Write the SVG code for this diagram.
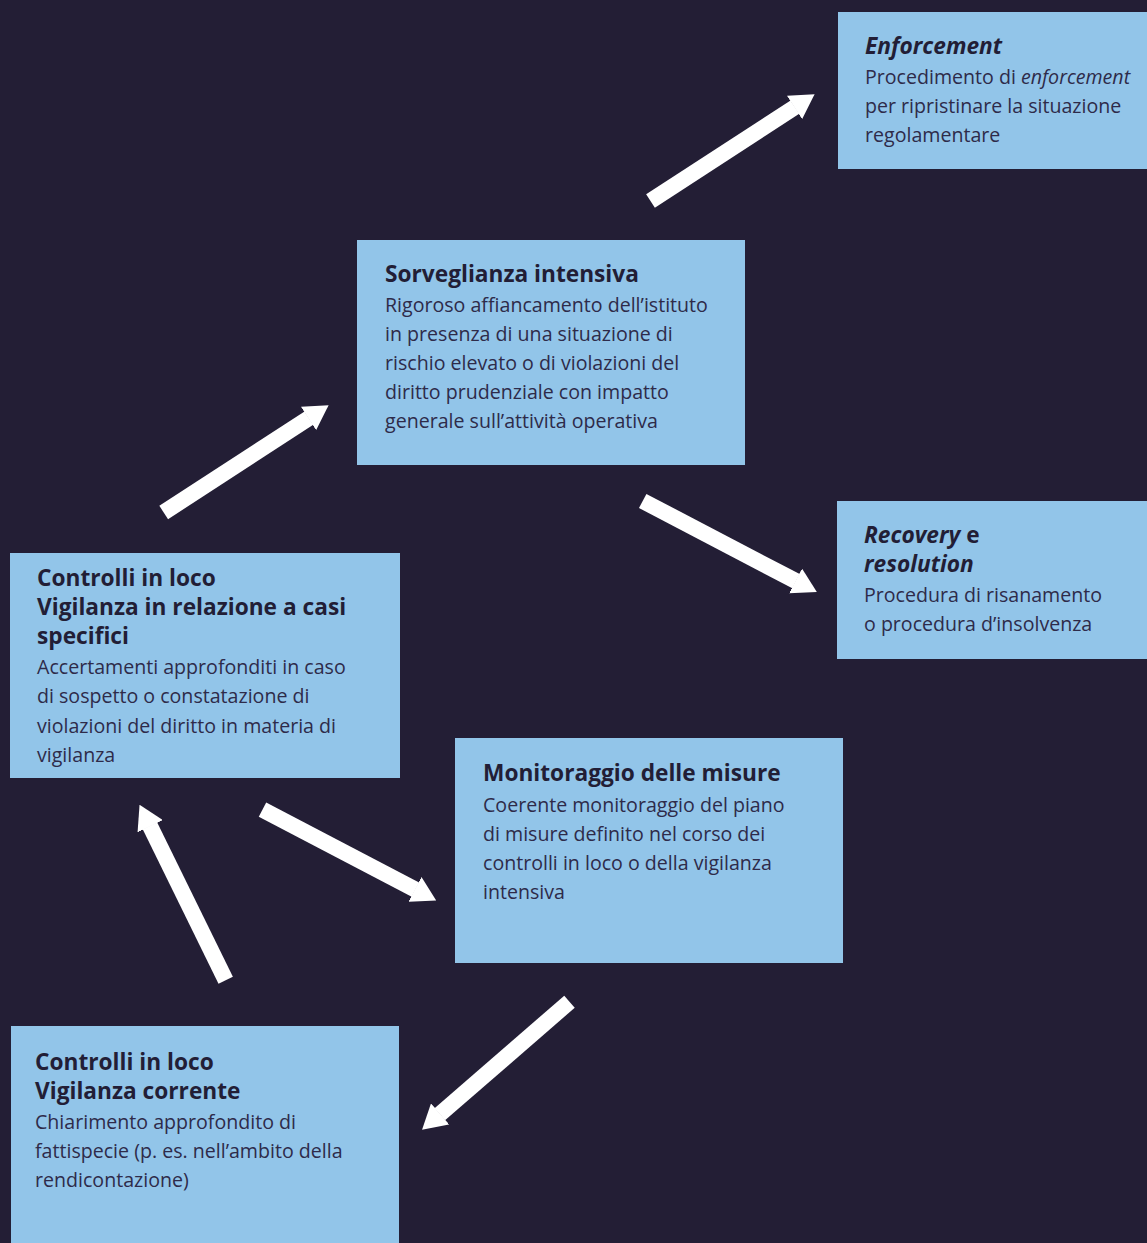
<svg xmlns="http://www.w3.org/2000/svg" width="1147" height="1243" viewBox="0 0 1147 1243">
<style>
.box{fill:#92c5e9}
.t{font-family:"Open Sans","Noto Sans",sans-serif;font-size:22.7px;font-weight:bold;fill:#221e36;font-variant-ligatures:none}
.b{font-family:"Open Sans","Noto Sans",sans-serif;font-size:19.6px;fill:#2e2b4a;font-variant-ligatures:none}
.i{font-style:italic}
.arr{stroke:#ffffff;stroke-width:16;fill:none}
</style>
<defs>
<marker id="ah" markerUnits="userSpaceOnUse" viewBox="0 0 24 28" markerWidth="24" markerHeight="28" refX="0.5" refY="14" orient="auto">
<path d="M0,0 L24,14 L0,28 z" fill="#ffffff"/>
</marker>
</defs>
<rect x="0" y="0" width="1147" height="1243" fill="#231e35"/>
<g id="connectors">
<line class="arr" x1="650.5" y1="201" x2="794.9" y2="107.1" marker-end="url(#ah)"/>
<line class="arr" x1="163.7" y1="512.5" x2="308.9" y2="418.1" marker-end="url(#ah)"/>
<line class="arr" x1="642.7" y1="501" x2="796" y2="581.2" marker-end="url(#ah)"/>
<line class="arr" x1="262.5" y1="809.7" x2="415.4" y2="889.6" marker-end="url(#ah)"/>
<line class="arr" x1="225.7" y1="980.3" x2="149.9" y2="825.8" marker-end="url(#ah)"/>
<line class="arr" x1="569.5" y1="1001.7" x2="439.8" y2="1114.3" marker-end="url(#ah)"/>
</g>
<g id="enforcement">
<rect class="box" x="838" y="12" width="309" height="157"/>
<text class="t i" x="865" y="54">Enforcement</text>
<text class="b" x="865" y="84">Procedimento di <tspan class="i">enforcement</tspan></text>
<text class="b" x="865" y="113">per ripristinare la situazione</text>
<text class="b" x="865" y="142">regolamentare</text>
</g>
<g id="sorveglianza">
<rect class="box" x="357" y="240" width="388" height="225"/>
<text class="t" x="385" y="282">Sorveglianza intensiva</text>
<text class="b" x="385" y="312">Rigoroso affiancamento dell’istituto</text>
<text class="b" x="385" y="341">in presenza di una situazione di</text>
<text class="b" x="385" y="370">rischio elevato o di violazioni del</text>
<text class="b" x="385" y="399">diritto prudenziale con impatto</text>
<text class="b" x="385" y="428">generale sull’attività operativa</text>
</g>
<g id="recovery">
<rect class="box" x="837" y="501" width="310" height="158"/>
<text class="t" x="864" y="543"><tspan class="i">Recovery</tspan> e</text>
<text class="t i" x="864" y="572">resolution</text>
<text class="b" x="864" y="602">Procedura di risanamento</text>
<text class="b" x="864" y="631">o procedura d’insolvenza</text>
</g>
<g id="controlli-casi">
<rect class="box" x="10" y="553" width="390" height="225"/>
<text class="t" x="37" y="586">Controlli in loco</text>
<text class="t" x="37" y="615">Vigilanza in relazione a casi</text>
<text class="t" x="37" y="644">specifici</text>
<text class="b" x="37" y="674">Accertamenti approfonditi in caso</text>
<text class="b" x="37" y="703">di sospetto o constatazione di</text>
<text class="b" x="37" y="733">violazioni del diritto in materia di</text>
<text class="b" x="37" y="762">vigilanza</text>
</g>
<g id="monitoraggio">
<rect class="box" x="455" y="738" width="388" height="225"/>
<text class="t" x="483" y="781">Monitoraggio delle misure</text>
<text class="b" x="483" y="812">Coerente monitoraggio del piano</text>
<text class="b" x="483" y="841">di misure definito nel corso dei</text>
<text class="b" x="483" y="870">controlli in loco o della vigilanza</text>
<text class="b" x="483" y="899">intensiva</text>
</g>
<g id="controlli-corrente">
<rect class="box" x="11" y="1026" width="388" height="217"/>
<text class="t" x="35" y="1070">Controlli in loco</text>
<text class="t" x="35" y="1099">Vigilanza corrente</text>
<text class="b" x="35" y="1129">Chiarimento approfondito di</text>
<text class="b" x="35" y="1158">fattispecie (p. es. nell’ambito della</text>
<text class="b" x="35" y="1187">rendicontazione)</text>
</g>
</svg>
